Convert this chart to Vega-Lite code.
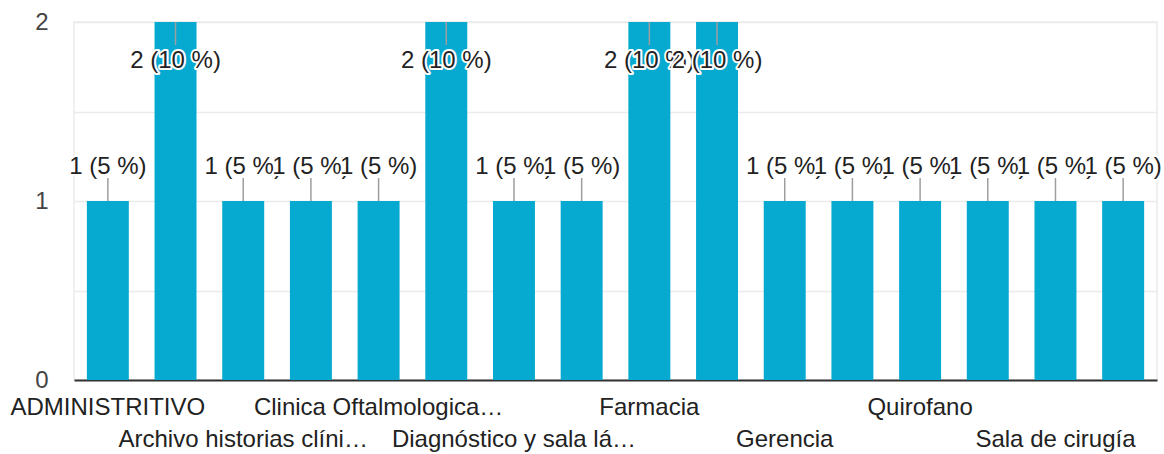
{
  "$schema": "https://vega.github.io/schema/vega-lite/v6.json",
  "width": 1083,
  "height": 358,
  "autosize": {"type": "none"},
  "padding": {"left": 74, "top": 22, "right": 7, "bottom": 74},
  "background": "white",
  "config": {
    "font": "Liberation Sans",
    "view": {"stroke": "#ebebeb", "strokeWidth": 1.5}
  },
  "data": {
    "values": [
      {"category": "ADMINISTRITIVO", "count": 1, "label": "1 (5 %)"},
      {"category": "Almacén", "count": 2, "label": "2 (10 %)"},
      {"category": "Archivo historias clíni…", "count": 1, "label": "1 (5 %)"},
      {"category": "Calidad", "count": 1, "label": "1 (5 %)"},
      {"category": "Clinica Oftalmologica…", "count": 1, "label": "1 (5 %)"},
      {"category": "Consulta externa", "count": 2, "label": "2 (10 %)"},
      {"category": "Diagnóstico y sala lá…", "count": 1, "label": "1 (5 %)"},
      {"category": "Enfermería", "count": 1, "label": "1 (5 %)"},
      {"category": "Farmacia", "count": 2, "label": "2 (10 %)"},
      {"category": "Gastroenterología", "count": 2, "label": "2 (10 %)"},
      {"category": "Gerencia", "count": 1, "label": "1 (5 %)"},
      {"category": "Hospitalización", "count": 1, "label": "1 (5 %)"},
      {"category": "Quirofano", "count": 1, "label": "1 (5 %)"},
      {"category": "Recursos humanos", "count": 1, "label": "1 (5 %)"},
      {"category": "Sala de cirugía", "count": 1, "label": "1 (5 %)"},
      {"category": "Urgencias", "count": 1, "label": "1 (5 %)"}
    ]
  },
  "encoding": {
    "x": {
      "field": "category",
      "type": "nominal",
      "sort": null,
      "scale": {"paddingInner": 0.38, "paddingOuter": 0.19},
      "axis": {
        "title": null,
        "labelAngle": 0,
        "labelFontSize": 24,
        "labelColor": "#222222",
        "labelPadding": 15,
        "labelLineHeight": 32,
        "labelOverlap": false,
        "labelLimit": 0,
        "ticks": false,
        "domainColor": "#333333",
        "domainWidth": 2,
        "labelExpr": "round(datum.index*15) % 4 == 0 ? datum.label : (round(datum.index*15) % 4 == 2 ? ['', datum.label] : '')"
      }
    },
    "y": {
      "field": "count",
      "type": "quantitative",
      "scale": {"domain": [0, 2], "nice": false},
      "axis": {
        "title": null,
        "values": [0, 0.5, 1, 1.5, 2],
        "labelExpr": "datum.value % 1 == 0 ? format(datum.value, 'd') : ''",
        "labelFontSize": 24,
        "labelColor": "#444444",
        "labelPadding": 26,
        "ticks": false,
        "domain": false,
        "gridColor": "#ebebeb",
        "gridWidth": 1.5
      }
    }
  },
  "layer": [
    {"mark": {"type": "bar", "color": "#06a9d0"}},
    {
      "transform": [{"filter": "datum.count == 1"}],
      "mark": {"type": "rule", "color": "#9e9e9e", "strokeWidth": 1.5, "y2Offset": -23},
      "encoding": {"y2": {"field": "count"}}
    },
    {
      "transform": [{"filter": "datum.count == 2"}],
      "mark": {"type": "rule", "color": "#9e9e9e", "strokeWidth": 1.5, "y2Offset": 23},
      "encoding": {"y2": {"field": "count"}}
    },
    {
      "transform": [{"filter": {"field": "category", "oneOf": ["ADMINISTRITIVO", "Almacén", "Archivo historias clíni…", "Consulta externa", "Diagnóstico y sala lá…", "Farmacia", "Gerencia"]}}],
      "layer": [
        {"mark": {"type": "text", "fontSize": 24, "fill": "white", "stroke": "white", "strokeWidth": 4, "strokeJoin": "round", "dy": {"expr": "datum.count == 2 ? 39 : -34"}, "baseline": "middle"}, "encoding": {"text": {"field": "label"}}},
        {"mark": {"type": "text", "fontSize": 24, "color": "#222222", "dy": {"expr": "datum.count == 2 ? 39 : -34"}, "baseline": "middle"}, "encoding": {"text": {"field": "label"}}}
      ]
    },
    {
      "transform": [{"filter": {"field": "category", "oneOf": ["Calidad", "Enfermería", "Gastroenterología", "Hospitalización"]}}],
      "layer": [
        {"mark": {"type": "text", "fontSize": 24, "fill": "white", "stroke": "white", "strokeWidth": 4, "strokeJoin": "round", "dy": {"expr": "datum.count == 2 ? 39 : -34"}, "baseline": "middle"}, "encoding": {"text": {"field": "label"}}},
        {"mark": {"type": "text", "fontSize": 24, "color": "#222222", "dy": {"expr": "datum.count == 2 ? 39 : -34"}, "baseline": "middle"}, "encoding": {"text": {"field": "label"}}}
      ]
    },
    {
      "transform": [{"filter": {"field": "category", "oneOf": ["Clinica Oftalmologica…", "Quirofano"]}}],
      "layer": [
        {"mark": {"type": "text", "fontSize": 24, "fill": "white", "stroke": "white", "strokeWidth": 4, "strokeJoin": "round", "dy": {"expr": "datum.count == 2 ? 39 : -34"}, "baseline": "middle"}, "encoding": {"text": {"field": "label"}}},
        {"mark": {"type": "text", "fontSize": 24, "color": "#222222", "dy": {"expr": "datum.count == 2 ? 39 : -34"}, "baseline": "middle"}, "encoding": {"text": {"field": "label"}}}
      ]
    },
    {
      "transform": [{"filter": {"field": "category", "oneOf": ["Recursos humanos"]}}],
      "layer": [
        {"mark": {"type": "text", "fontSize": 24, "fill": "white", "stroke": "white", "strokeWidth": 4, "strokeJoin": "round", "dy": {"expr": "datum.count == 2 ? 39 : -34"}, "baseline": "middle"}, "encoding": {"text": {"field": "label"}}},
        {"mark": {"type": "text", "fontSize": 24, "color": "#222222", "dy": {"expr": "datum.count == 2 ? 39 : -34"}, "baseline": "middle"}, "encoding": {"text": {"field": "label"}}}
      ]
    },
    {
      "transform": [{"filter": {"field": "category", "oneOf": ["Sala de cirugía"]}}],
      "layer": [
        {"mark": {"type": "text", "fontSize": 24, "fill": "white", "stroke": "white", "strokeWidth": 4, "strokeJoin": "round", "dy": {"expr": "datum.count == 2 ? 39 : -34"}, "baseline": "middle"}, "encoding": {"text": {"field": "label"}}},
        {"mark": {"type": "text", "fontSize": 24, "color": "#222222", "dy": {"expr": "datum.count == 2 ? 39 : -34"}, "baseline": "middle"}, "encoding": {"text": {"field": "label"}}}
      ]
    },
    {
      "transform": [{"filter": {"field": "category", "oneOf": ["Urgencias"]}}],
      "layer": [
        {"mark": {"type": "text", "fontSize": 24, "fill": "white", "stroke": "white", "strokeWidth": 4, "strokeJoin": "round", "dy": {"expr": "datum.count == 2 ? 39 : -34"}, "baseline": "middle"}, "encoding": {"text": {"field": "label"}}},
        {"mark": {"type": "text", "fontSize": 24, "color": "#222222", "dy": {"expr": "datum.count == 2 ? 39 : -34"}, "baseline": "middle"}, "encoding": {"text": {"field": "label"}}}
      ]
    }
  ]
}
